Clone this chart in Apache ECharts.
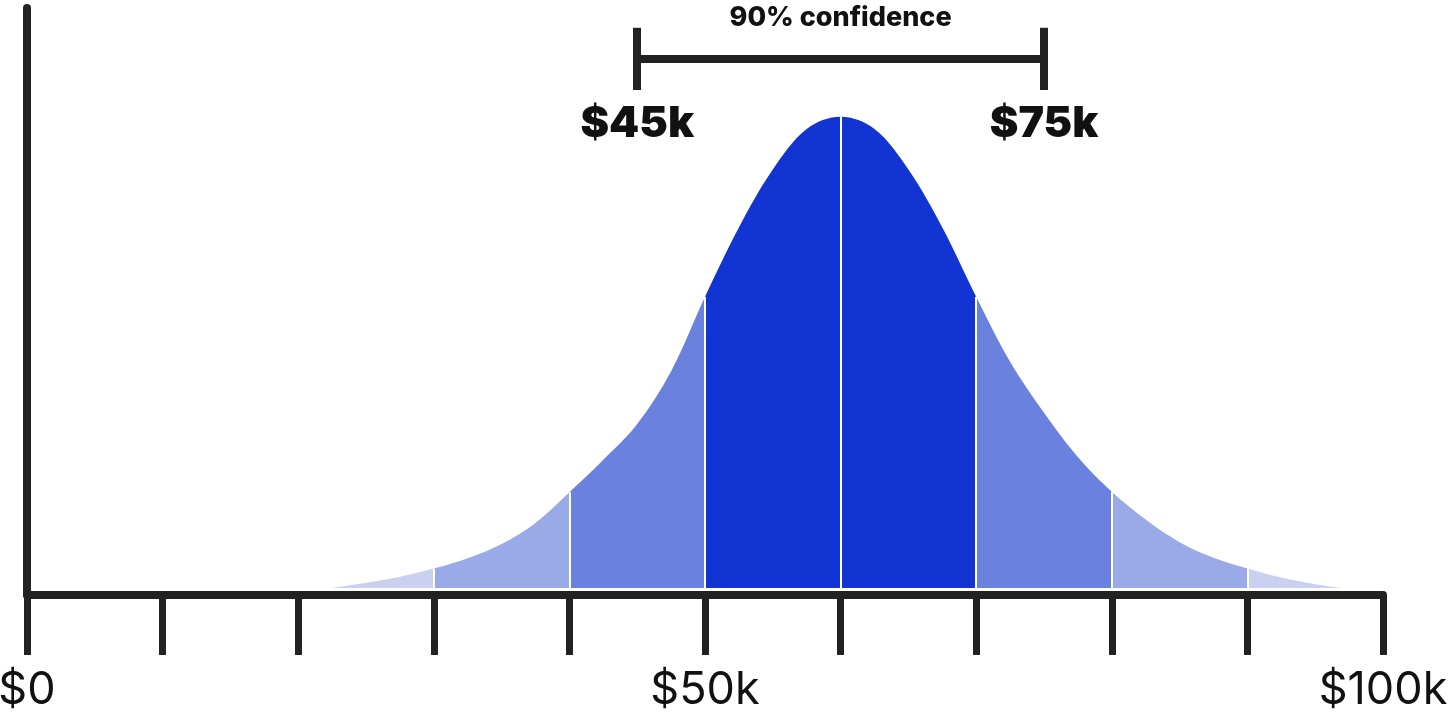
<!DOCTYPE html>
<html><head><meta charset="utf-8">
<script src="https://cdn.jsdelivr.net/npm/echarts@6/dist/echarts.min.js"></script>
<style>html,body{margin:0;padding:0;background:#fff}#c{width:1450px;height:718px}</style>
</head><body><div id="c"></div>
<script>
// salary ($k) sample points along the curve and their relative density (peak = 1)
const salaryK = [22.5,25,27.5,30,32.5,35,37.5,40,42.5,45,47.5,50,52.5,55,57.5,60,62.5,65,67.5,70,72.5,75,77.5,80,82.5,85,87.5,90,92.5,95,97];
const density = [0,0.011,0.024,0.041,0.063,0.093,0.138,0.203,0.272,0.348,0.46,0.618,0.765,0.888,0.974,1.0,0.974,0.888,0.765,0.618,0.48,0.372,0.278,0.204,0.145,0.097,0.064,0.041,0.022,0.008,0];
const bandEdges = [30,40,50,60,70,80,90];
const confidence = [45,75];
const confidenceTitle = '90% confidence';
const confidenceLabels = ['$45k','$75k'];
const labelValues = [0,50,100];
const labelTexts = ['$0','$50k','$100k'];

const C_DARK = '#1234D3', C_MED = '#6A82DE', C_LIGHT = '#9AAAE6', C_PALE = '#C9D0F0';
const INK = '#222222';
const BR_Y = 1.123, BR_TOP = 1.189, BR_BOT = 1.057, TITLE_Y = 1.21, LABEL_Y = 0.985;

const curve = salaryK.map((x,i)=>[x,density[i]]);
const edgeLines = bandEdges.map(e=>{
  const h = density[salaryK.indexOf(e)];
  return [{coord:[e,0]},{coord:[e,h]}];
});

const chart = echarts.init(document.getElementById('c'), null, {renderer:'canvas'});
chart.setOption({
  animation:false,
  grid:{left:27,right:67,top:8,bottom:123,containLabel:false,outerBoundsMode:'none'},
  xAxis:{
    type:'value',min:0,max:100,interval:10,
    axisLine:{show:true,onZero:false,lineStyle:{color:INK,width:8}},
    axisTick:{show:true,length:60,lineStyle:{color:INK,width:7}},
    splitLine:{show:false},
    axisLabel:{
      show:true,margin:73,color:'#111',fontFamily:'Inter',fontSize:45,fontWeight:400,
      formatter:v=>{const i=labelValues.indexOf(v);return i<0?'':labelTexts[i];}
    }
  },
  yAxis:{
    type:'value',min:-0.015,max:1.231,
    axisLine:{show:true,onZero:false,lineStyle:{color:INK,width:8}},
    axisTick:{show:false},axisLabel:{show:false},splitLine:{show:false}
  },
  visualMap:{
    type:'piecewise',show:false,dimension:0,seriesIndex:0,
    pieces:[
      {lt:30,color:C_PALE},{gte:30,lt:40,color:C_LIGHT},{gte:40,lt:50,color:C_MED},
      {gte:50,lt:70,color:C_DARK},{gte:70,lt:80,color:C_MED},{gte:80,lt:90,color:C_LIGHT},{gte:90,color:C_PALE}
    ]
  },
  series:[
    {
      type:'line',data:curve,smooth:0.35,symbol:'none',
      lineStyle:{width:0,opacity:0},areaStyle:{opacity:1},z:2
    },
    {
      type:'line',data:[],symbol:'none',z:5,
      markLine:{
        silent:true,symbol:['none','none'],animation:false,
        label:{show:false},
        lineStyle:{color:'#ffffff',width:2,type:'solid'},
        data:edgeLines
      }
    },
    {
      type:'line',data:[],symbol:'none',z:6,
      markLine:{
        silent:true,symbol:['none','none'],animation:false,
        label:{show:false},
        lineStyle:{color:INK,width:8,type:'solid',cap:'butt'},
        data:[
          [{coord:[confidence[0],BR_Y]},{coord:[confidence[1],BR_Y]}],
          [{coord:[confidence[0],BR_BOT]},{coord:[confidence[0],BR_TOP]}],
          [{coord:[confidence[1],BR_BOT]},{coord:[confidence[1],BR_TOP]}]
        ]
      },
      markPoint:{
        silent:true,symbol:'circle',symbolSize:0,animation:false,
        data:[
          {coord:[(confidence[0]+confidence[1])/2,TITLE_Y],label:{show:true,position:'inside',formatter:confidenceTitle,color:'#111',fontFamily:'Inter',fontWeight:800,fontSize:27}},
          {coord:[confidence[0],LABEL_Y],label:{show:true,position:'inside',formatter:confidenceLabels[0],color:'#111',fontFamily:'Inter',fontWeight:900,fontSize:43}},
          {coord:[confidence[1],LABEL_Y],label:{show:true,position:'inside',formatter:confidenceLabels[1],color:'#111',fontFamily:'Inter',fontWeight:900,fontSize:43}}
        ]
      }
    }
  ]
});
</script></body></html>
